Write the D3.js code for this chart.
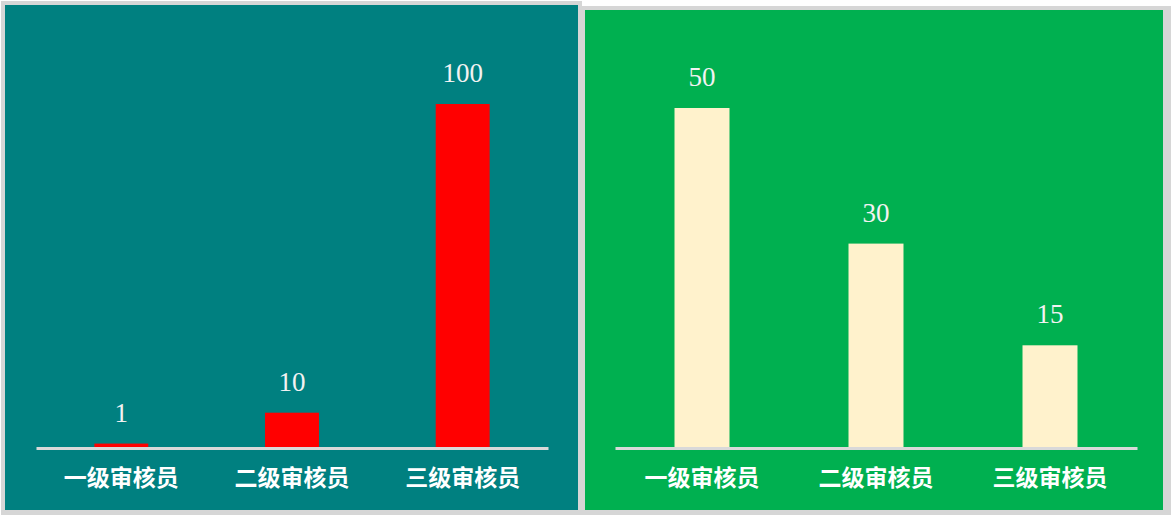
<!DOCTYPE html>
<html>
<head>
<meta charset="utf-8">
<script src="https://cdn.jsdelivr.net/npm/d3@7"></script>
<style>
  body { margin: 0; background: #fff; }
  .cat text { font-family: "Noto Sans CJK SC", sans-serif; font-weight: bold; font-size: 23px; fill: #ffffff; }
  .val { font-family: "Liberation Serif", serif; font-size: 27px; fill: #f2f2f2; }
</style>
</head>
<body>
<script>
// chart data
const categories = ["一级审核员", "二级审核员", "三级审核员"];
const leftValues = [1, 10, 100];
const rightValues = [50, 30, 15];

const WIDTH = 1173;
const HEIGHT = 516;
const AXIS_Y = 448;
const BAR_RATIO = 0.316; // bar width / band width

const svg = d3.select("body").append("svg")
  .attr("width", WIDTH)
  .attr("height", HEIGHT);

function drawPanel(opts) {
  const g = svg.append("g");
  // frame + background
  g.append("rect")
    .attr("x", opts.frame[0]).attr("y", opts.frame[1])
    .attr("width", opts.frame[2]).attr("height", opts.frame[3])
    .attr("fill", "#d6d6d6");
  g.append("rect")
    .attr("x", opts.bg[0]).attr("y", opts.bg[1])
    .attr("width", opts.bg[2]).attr("height", opts.bg[3])
    .attr("fill", opts.bgColor);

  const x = d3.scaleBand().domain(categories).range(opts.xRange).padding(0);
  const y = d3.scaleLinear().domain([0, opts.max]).range([AXIS_Y - 1, opts.top]);
  const barW = x.bandwidth() * BAR_RATIO;

  g.selectAll("rect.bar")
    .data(opts.values)
    .enter().append("rect")
    .attr("class", "bar")
    .attr("x", (_, i) => x(categories[i]) + (x.bandwidth() - barW) / 2)
    .attr("y", d => y(d))
    .attr("width", barW)
    .attr("height", d => y(0) - y(d))
    .attr("fill", opts.barColor);

  g.selectAll("text.val")
    .data(opts.values)
    .enter().append("text")
    .attr("class", "val")
    .attr("text-anchor", "middle")
    .attr("x", (_, i) => x(categories[i]) + x.bandwidth() / 2)
    .attr("y", d => y(d) - 22)
    .text(d => d);

  const axis = g.append("g")
    .attr("class", "cat")
    .attr("transform", `translate(0,${AXIS_Y})`)
    .call(d3.axisBottom(x).tickSize(0).tickPadding(22).tickSizeOuter(0));
  axis.select(".domain").attr("stroke", "#d9d9d9").attr("stroke-width", 3);
  axis.selectAll("text").attr("font-family", null).attr("font-size", null).attr("fill", null);
}

drawPanel({
  frame: [1, 1, 581, 514], bg: [5, 5, 573, 505], bgColor: "#008080",
  xRange: [36, 548], max: 100, top: 104,
  values: leftValues, barColor: "#ff0000"
});

drawPanel({
  frame: [580, 6, 591, 509], bg: [585, 10, 578, 500], bgColor: "#00b050",
  xRange: [615, 1137], max: 50, top: 108,
  values: rightValues, barColor: "#fff2cc"
});
</script>
</body>
</html>
